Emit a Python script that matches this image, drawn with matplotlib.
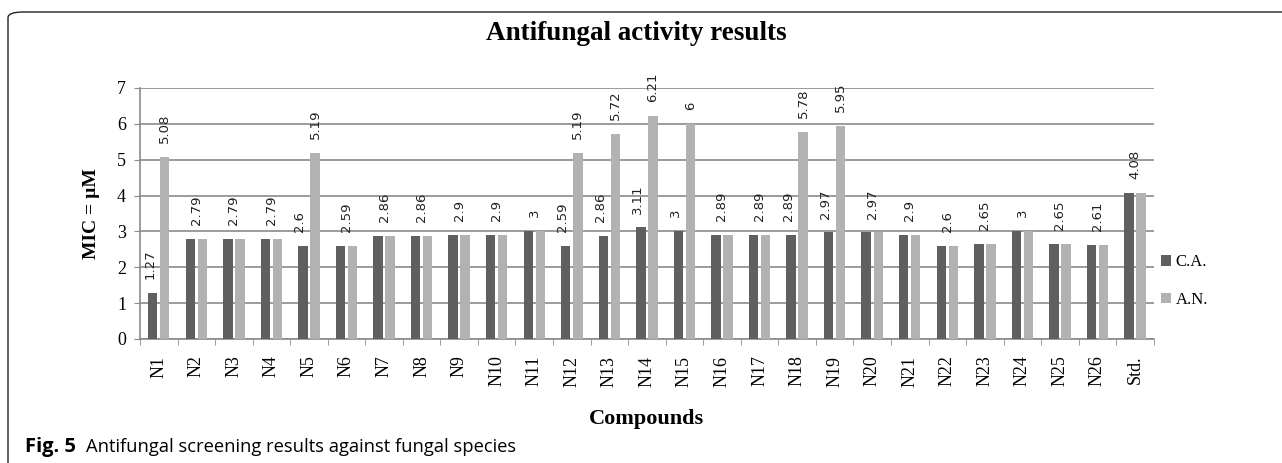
import numpy as np
import matplotlib
matplotlib.use('Agg')
import matplotlib.pyplot as plt
from matplotlib.patches import FancyBboxPatch

# Data
compounds = ['N1', 'N2', 'N3', 'N4', 'N5', 'N6', 'N7', 'N8', 'N9', 'N10',
             'N11', 'N12', 'N13', 'N14', 'N15', 'N16', 'N17', 'N18', 'N19', 'N20',
             'N21', 'N22', 'N23', 'N24', 'N25', 'N26', 'Std.']
ca_values = [1.27, 2.79, 2.79, 2.79, 2.6, 2.59, 2.86, 2.86, 2.9, 2.9,
             3, 2.59, 2.86, 3.11, 3, 2.89, 2.89, 2.89, 2.97, 2.97,
             2.9, 2.6, 2.65, 3, 2.65, 2.61, 4.08]
an_values = [5.08, 2.79, 2.79, 2.79, 5.19, 2.59, 2.86, 2.86, 2.9, 2.9,
             3, 5.19, 5.72, 6.21, 6, 2.89, 2.89, 5.78, 5.95, 2.97,
             2.9, 2.6, 2.65, 3, 2.65, 2.61, 4.08]
series_names = ['C.A.', 'A.N.']
colors = ['#5f5f5f', '#b2b2b2']

serif = 'Liberation Serif'

fig = plt.figure(figsize=(12.82, 4.63), dpi=100)
ax = fig.add_axes([0.1092, 0.268, 0.7908, 0.542])

x = np.arange(len(compounds))
width = 0.25
offset = 0.16

ax.bar(x - offset, ca_values, width, color=colors[0], label=series_names[0], zorder=3)
ax.bar(x + offset, an_values, width, color=colors[1], label=series_names[1], zorder=3)

# value labels (one label when both series are equal)
for i in range(len(compounds)):
    ca, an = ca_values[i], an_values[i]
    if ca == an:
        pos = [(x[i], ca)]
    else:
        pos = [(x[i] - offset - 0.08, ca), (x[i] + offset, an)]
    for xp, v in pos:
        ax.annotate('%g' % v, (xp, v), xytext=(0, 10), textcoords='offset points',
                    rotation=90, ha='center', va='bottom', fontsize=9.5,
                    family='DejaVu Sans', color='#222222', zorder=4)

ax.set_xlim(-0.5, len(compounds) - 0.5)
ax.set_ylim(0, 7)
ax.set_yticks(range(0, 8))
ax.set_xticks(x)
ax.set_xticklabels(compounds, rotation=90, family=serif, fontsize=13)
ax.set_xticks(np.arange(-0.5, len(compounds), 1), minor=True)
for lbl in ax.get_yticklabels():
    lbl.set_family(serif)
    lbl.set_fontsize(13)

ax.grid(True, axis='y', color='#8a8a8a', linewidth=1.2, zorder=0)
for side in ['top', 'right']:
    ax.spines[side].set_visible(False)
ax.spines['left'].set_color('#8a8a8a')
ax.spines['bottom'].set_color('#8a8a8a')
ax.spines['left'].set_linewidth(1.2)
ax.spines['bottom'].set_linewidth(1.2)
ax.tick_params(axis='y', length=4, color='#8a8a8a', pad=6)
ax.tick_params(axis='x', which='major', length=0, pad=12)
ax.tick_params(axis='x', which='minor', length=4, color='#8a8a8a')

ax.set_ylabel('MIC = µM', family=serif, fontweight='bold', fontsize=14, labelpad=12)
ax.set_xlabel('Compounds', family=serif, fontweight='bold', fontsize=16, labelpad=16)
fig.text(0.496, 0.928, 'Antifungal activity results', family=serif, fontweight='bold',
         fontsize=19.5, ha='center', va='center')

ax.legend(loc='center left', bbox_to_anchor=(0.992, 0.23), frameon=False,
          prop={'family': serif, 'size': 12}, handlelength=0.6, handleheight=0.6,
          handletextpad=0.3, labelspacing=1.3)

# caption and frame
fig.text(0.0195, 0.035, 'Fig. 5', family='Open Sans', fontweight='bold', fontsize=14.5,
         va='center', ha='left')
fig.text(0.067, 0.035, 'Antifungal screening results against fungal species',
         family='Open Sans', fontsize=13.2, va='center', ha='left')
frame = FancyBboxPatch((8 / 1282, -0.05), 1.2, 1.0 - 12 / 463 + 0.05,
                       boxstyle='round,pad=0,rounding_size=0.012',
                       transform=fig.transFigure, fill=False, edgecolor='#222222',
                       linewidth=1.0, clip_on=False)
fig.patches.append(frame)

fig.savefig('out.png', dpi=100)
